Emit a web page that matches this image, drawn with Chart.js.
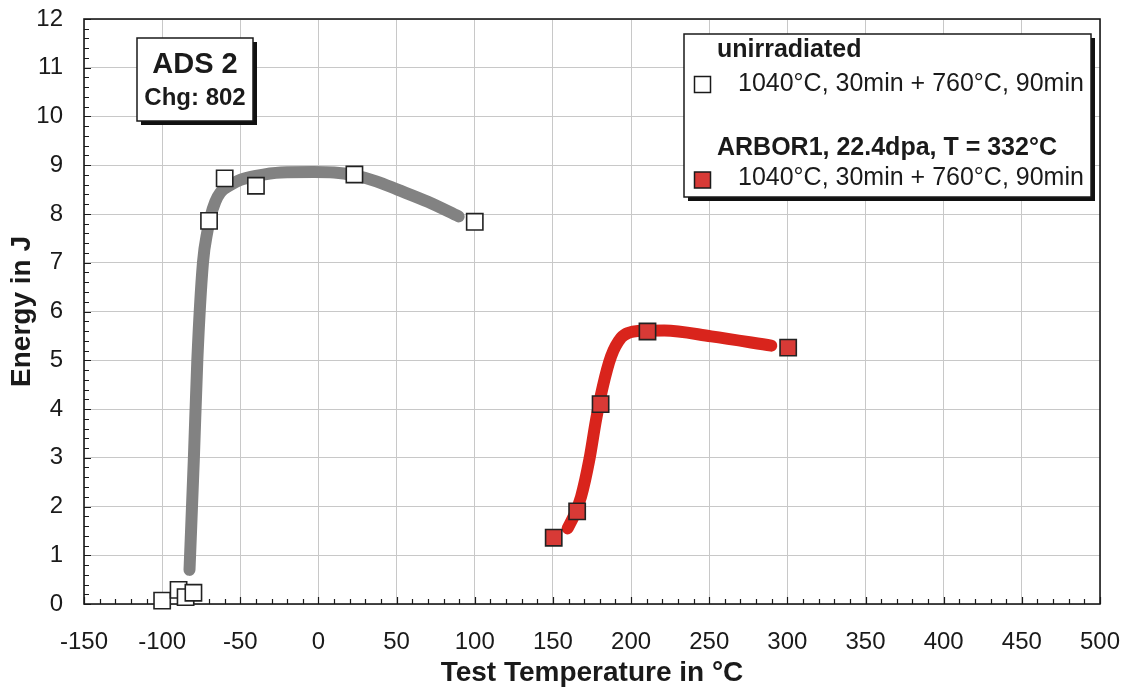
<!DOCTYPE html>
<html>
<head>
<meta charset="utf-8">
<script src="https://cdn.jsdelivr.net/npm/chart.js@4.4.1/dist/chart.umd.min.js"></script>
<style>
  body { margin: 0; background: #fff; }
  #wrap { width: 1125px; height: 690px; }
</style>
</head>
<body>
<div id="wrap"><canvas id="impactChart" width="1125" height="690"></canvas></div>
<script>
var unirrTemp = [-100, -89.5, -85, -80, -70, -60, -40, 23, 100];
var unirrEnergy = [0.07, 0.29, 0.14, 0.23, 7.86, 8.73, 8.58, 8.81, 7.84];
var arborTemp = [150.5, 165.5, 180.5, 210.5, 300.5];
var arborEnergy = [1.36, 1.9, 4.1, 5.59, 5.26];

// fitted curves, points
var unirrFitTemp = [-82.5, -79.7, -77.5, -73.9, -71, -69, -66, -62.8, -56, -50, -40, -24, -3, 10, 23, 37, 50.6, 70, 89.7];
var unirrFitEnergy = [0.7, 3.0, 5.0, 7.0, 7.65, 7.95, 8.25, 8.44, 8.6, 8.7, 8.78, 8.85, 8.86, 8.85, 8.79, 8.67, 8.5, 8.25, 7.95];
var arborFitTemp = [159.4, 164, 168, 173.3, 177.6, 181.9, 187.2, 193.6, 199, 204.3, 221.3, 251.3, 289.7];
var arborFitEnergy = [1.55, 1.85, 2.2, 2.96, 3.78, 4.46, 5.08, 5.46, 5.57, 5.6, 5.61, 5.49, 5.3];

var xTicks = [-150, -100, -50, 0, 50, 100, 150, 200, 250, 300, 350, 400, 450, 500];
var yTicks = [0, 1, 2, 3, 4, 5, 6, 7, 8, 9, 10, 11, 12];

var legendTitles = ['unirradiated', 'ARBOR1, 22.4dpa, T = 332°C'];
var legendLabel = '1040°C, 30min + 760°C, 90min';

function toPoints(xs, ys) {
    return xs.map(function(x, i) { return { x: x, y: ys[i] }; });
}

var FONT = '"Liberation Sans", Arial, sans-serif';
var INK = '#1a1a1a';

var frameAndTicks = {
    id: 'frameAndTicks',
    beforeDatasetsDraw: function(chart) {
        var ctx = chart.ctx, a = chart.chartArea;
        var xs = chart.scales.x, ys = chart.scales.y;
        ctx.save();
        ctx.strokeStyle = INK;
        ctx.lineWidth = 1.2;
        ctx.beginPath();
        for (var t = xTicks[0]; t <= xTicks[xTicks.length - 1]; t += 10) {
            var px = Math.round(xs.getPixelForValue(t)) + 0.5;
            var len = (t % 50 === 0) ? 7 : 5;
            ctx.moveTo(px, a.bottom);
            ctx.lineTo(px, a.bottom - len);
        }
        for (var k = 0; k <= 60; k++) {
            var py = Math.round(ys.getPixelForValue(k * 0.2)) + 0.5;
            var l2 = (k % 5 === 0) ? 7 : 5;
            ctx.moveTo(a.left, py);
            ctx.lineTo(a.left + l2, py);
        }
        ctx.stroke();
        ctx.lineWidth = 1.6;
        ctx.strokeRect(a.left, a.top, a.right - a.left, a.bottom - a.top);
        ctx.restore();
    },
    afterDraw: function(chart) {
        var ctx = chart.ctx;
        ctx.save();
        // ADS box
        boxWithShadow(ctx, 137, 38, 116, 83);
        ctx.fillStyle = INK;
        ctx.textAlign = 'center';
        ctx.textBaseline = 'middle';
        ctx.font = 'bold 29px ' + FONT;
        ctx.fillText('ADS 2', 195, 65);
        ctx.font = 'bold 24px ' + FONT;
        ctx.fillText('Chg: 802', 195, 98);

        // legend box
        boxWithShadow(ctx, 684, 34, 407, 163);
        ctx.textAlign = 'left';
        ctx.fillStyle = INK;
        ctx.font = 'bold 25px ' + FONT;
        ctx.fillText(legendTitles[0], 717, 50);
        ctx.fillText(legendTitles[1], 717, 148);
        ctx.font = '25px ' + FONT;
        ctx.fillText(legendLabel, 738, 84);
        ctx.fillText(legendLabel, 738, 178);
        ctx.lineWidth = 1.5;
        ctx.strokeStyle = INK;
        ctx.fillStyle = '#ffffff';
        ctx.fillRect(694.5, 76.5, 16, 16);
        ctx.strokeRect(694.5, 76.5, 16, 16);
        ctx.fillStyle = '#d83a36';
        ctx.fillRect(694.5, 172, 16, 16);
        ctx.strokeRect(694.5, 172, 16, 16);
        ctx.restore();
    }
};

function boxWithShadow(ctx, x, y, w, h) {
    ctx.fillStyle = '#111';
    ctx.fillRect(x + 4, y + 4, w, h);
    ctx.fillStyle = '#fff';
    ctx.fillRect(x, y, w, h);
    ctx.lineWidth = 1.5;
    ctx.strokeStyle = INK;
    ctx.strokeRect(x, y, w, h);
}

var ctx = document.getElementById('impactChart').getContext('2d');
var chart = new Chart(ctx, {
    type: 'scatter',
    data: {
        datasets: [{
            label: 'unirradiated',
            data: toPoints(unirrTemp, unirrEnergy),
            pointStyle: 'rect',
            pointRadius: 11.5,
            pointBackgroundColor: '#ffffff',
            pointBorderColor: '#222',
            pointBorderWidth: 1.6,
            showLine: false,
            clip: false
        }, {
            label: 'ARBOR1',
            data: toPoints(arborTemp, arborEnergy),
            pointStyle: 'rect',
            pointRadius: 11.5,
            pointBackgroundColor: '#d83a36',
            pointBorderColor: '#222',
            pointBorderWidth: 1.6,
            showLine: false,
            clip: false
        }, {
            label: 'unirradiated fit',
            data: toPoints(unirrFitTemp, unirrFitEnergy),
            showLine: true,
            borderColor: '#828282',
            borderWidth: 12,
            borderCapStyle: 'round',
            borderJoinStyle: 'round',
            cubicInterpolationMode: 'monotone',
            pointRadius: 0
        }, {
            label: 'ARBOR1 fit',
            data: toPoints(arborFitTemp, arborFitEnergy),
            showLine: true,
            borderColor: '#d9241c',
            borderWidth: 12,
            borderCapStyle: 'round',
            borderJoinStyle: 'round',
            cubicInterpolationMode: 'monotone',
            pointRadius: 0
        }]
    },
    options: {
        responsive: false,
        animation: false,
        layout: { padding: { top: 19, right: 25, left: 0, bottom: 0 } },
        plugins: {
            legend: { display: false },
            tooltip: { enabled: false }
        },
        scales: {
            x: {
                type: 'linear',
                min: xTicks[0],
                max: xTicks[xTicks.length - 1],
                afterFit: function(s) {
                    s.height = 86;
                    s.paddingLeft = 0;
                    s.paddingRight = 0;
                },
                afterBuildTicks: function(s) { s.ticks = xTicks.map(function(v) { return { value: v }; }); },
                border: { display: false },
                grid: { color: '#c8c8c8', lineWidth: 1, drawTicks: false },
                ticks: { color: INK, font: { family: FONT, size: 24 }, padding: 24, maxRotation: 0 },
                title: {
                    display: true,
                    text: 'Test Temperature in °C',
                    color: INK,
                    font: { family: FONT, size: 28, weight: 'bold' },
                    padding: { top: 0, bottom: 0 }
                }
            },
            y: {
                min: yTicks[0],
                max: yTicks[yTicks.length - 1],
                afterFit: function(s) {
                    s.width = 84;
                    s.paddingTop = 0;
                    s.paddingBottom = 0;
                },
                afterBuildTicks: function(s) { s.ticks = yTicks.map(function(v) { return { value: v }; }); },
                border: { display: false },
                grid: { color: '#c8c8c8', lineWidth: 1, drawTicks: false },
                ticks: { color: INK, font: { family: FONT, size: 24 }, padding: 21 },
                title: {
                    display: true,
                    text: 'Energy in J',
                    color: INK,
                    font: { family: FONT, size: 28, weight: 'bold' },
                    padding: { top: 5, bottom: 0 }
                }
            }
        }
    },
    plugins: [frameAndTicks]
});
</script>
</body>
</html>
